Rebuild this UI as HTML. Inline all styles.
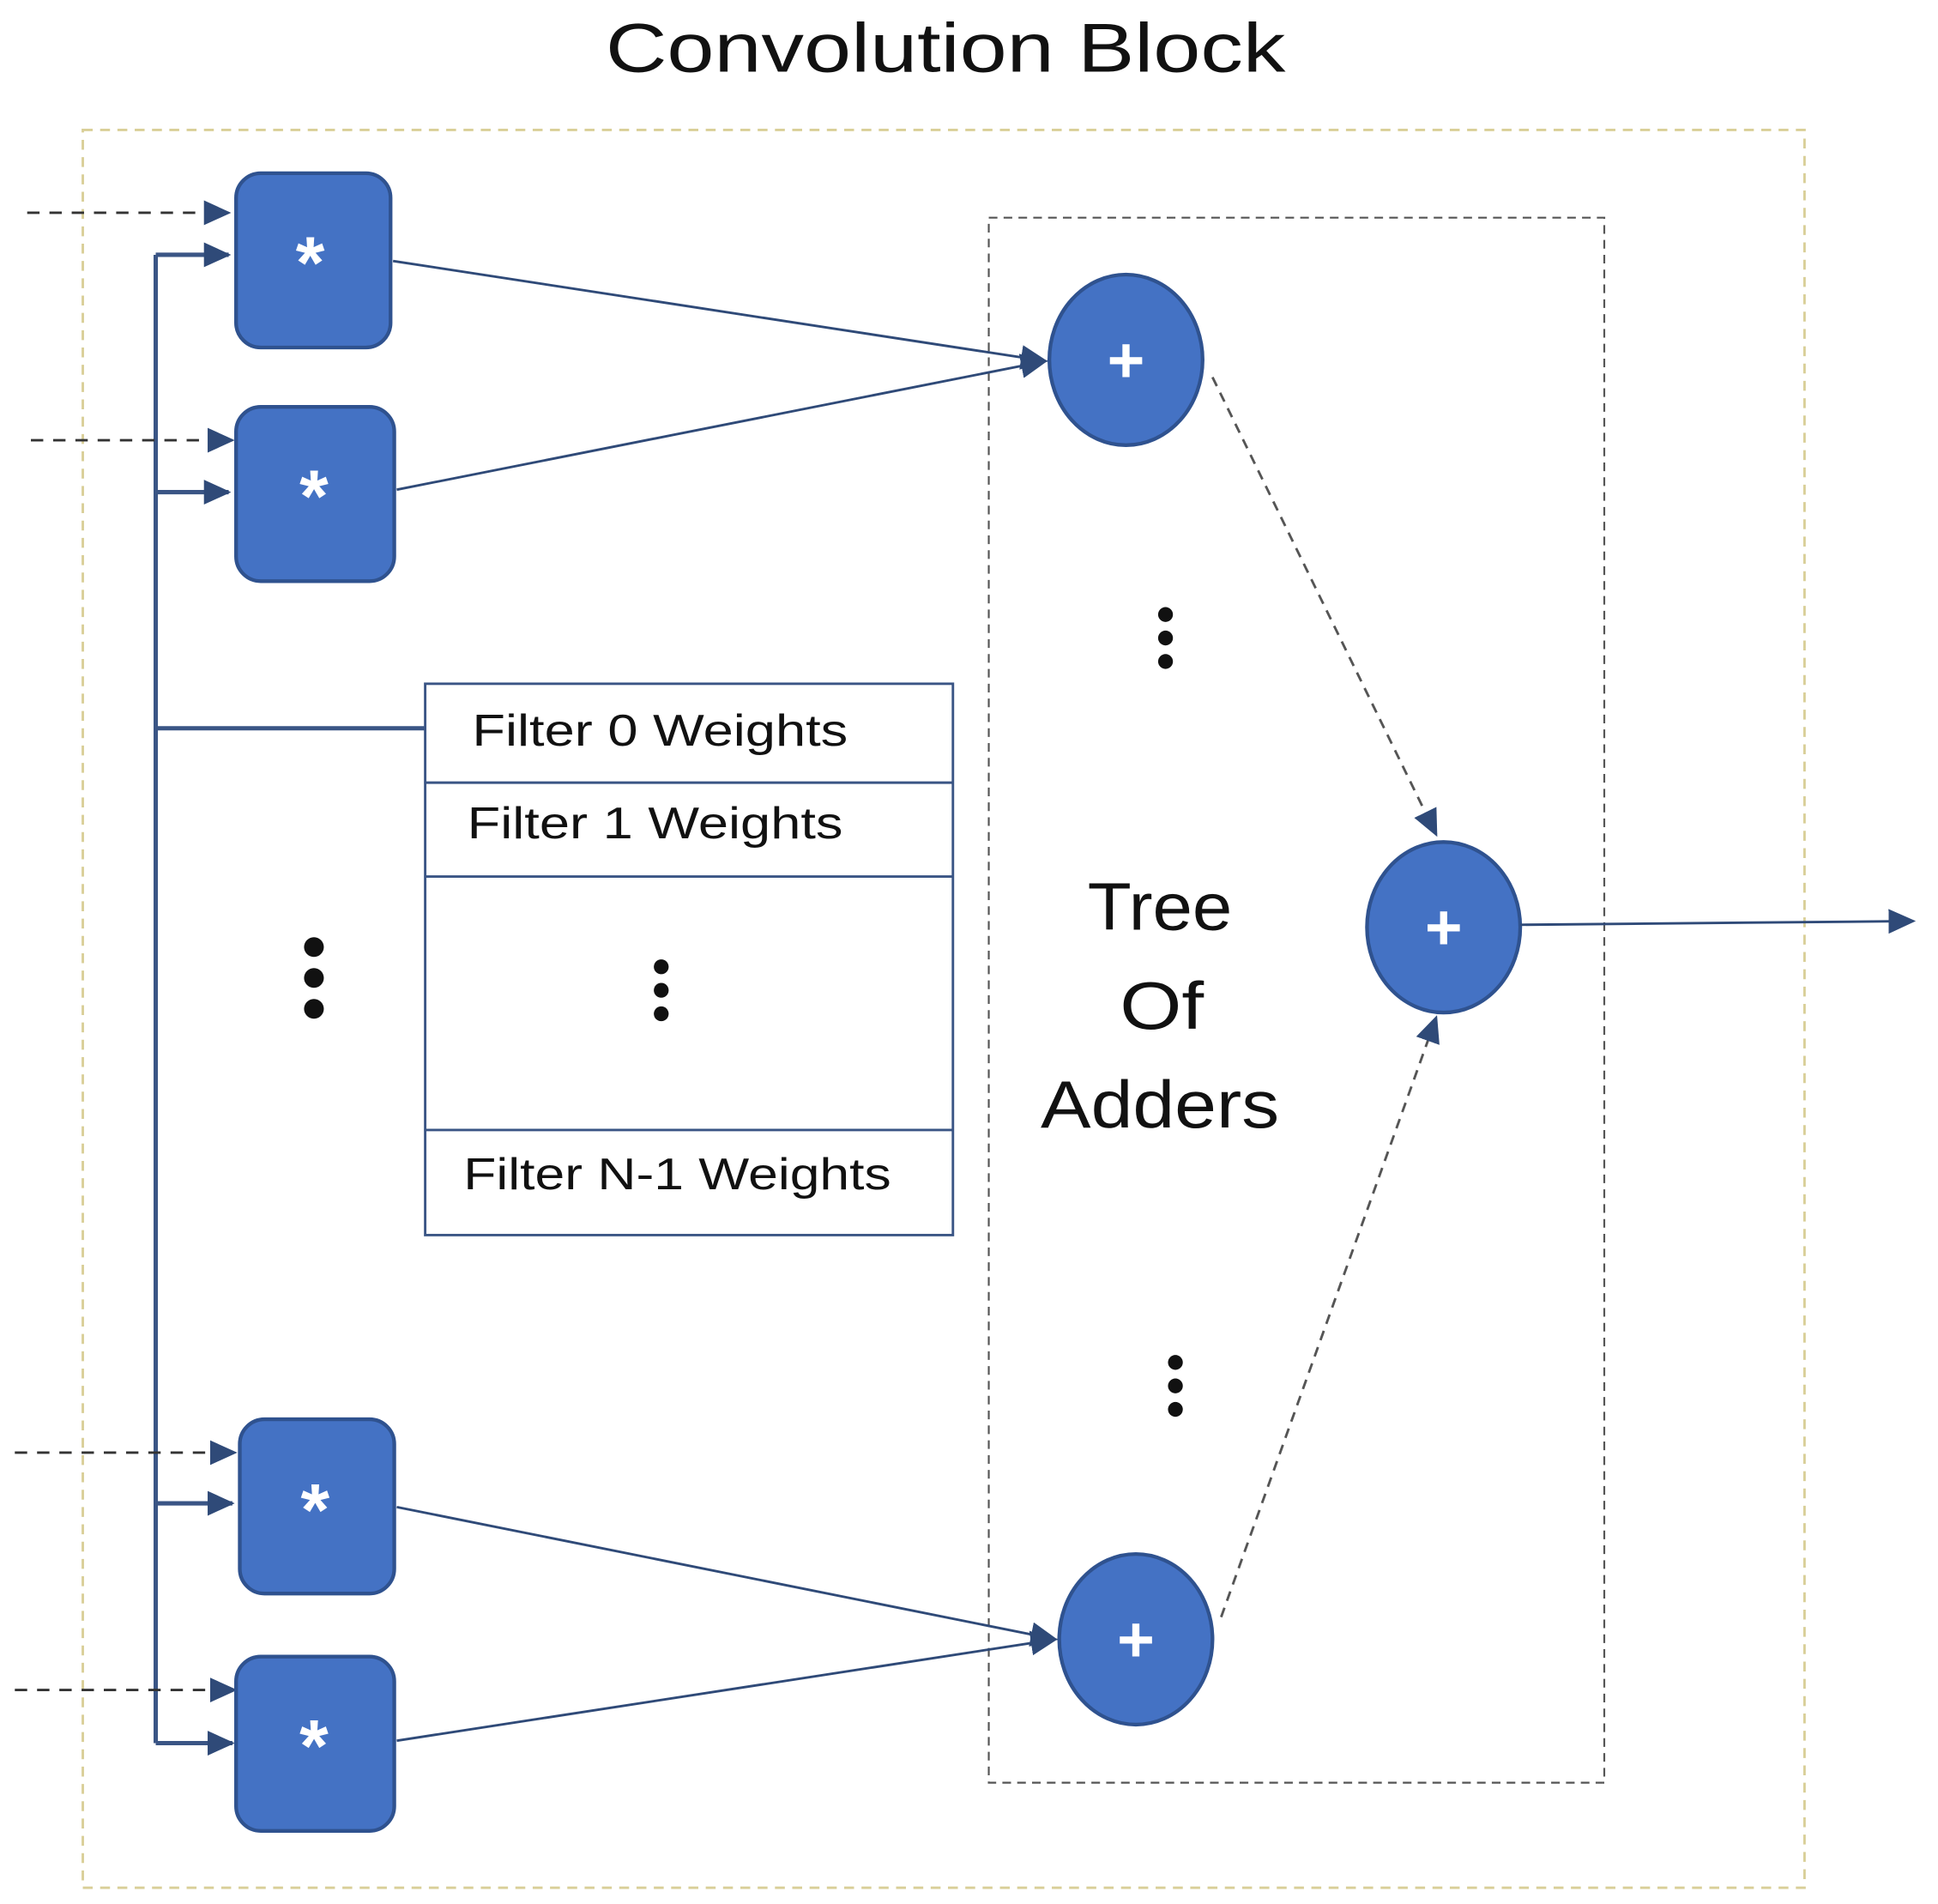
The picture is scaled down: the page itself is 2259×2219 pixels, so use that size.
<!DOCTYPE html>
<html><head><style>html,body{margin:0;padding:0;background:#fff}svg{display:block}</style></head>
<body>
<svg width="2259" height="2219" viewBox="0 0 1568 1540" xmlns="http://www.w3.org/2000/svg" font-family="Liberation Sans, DejaVu Sans, sans-serif">
<defs>
<marker id="b" markerWidth="22" markerHeight="20" refX="20" refY="10" orient="auto" markerUnits="userSpaceOnUse" viewBox="0 0 22 20">
<path d="M0,0 L22,10 L0,20 z" fill="#2f4a78"/></marker>
</defs>
<text x="490" y="58" font-size="56" textLength="550" lengthAdjust="spacingAndGlyphs" fill="#111">Convolution  Block</text>
<rect x="67" y="105" width="1393" height="1422" fill="none" stroke="#d9cf98" stroke-width="2" stroke-dasharray="8,6"/>
<rect x="800" y="176" width="498" height="1266" fill="none" stroke="#555" stroke-width="1.5" stroke-dasharray="7,5"/>
<path d="M345,589 H126 V1410" fill="none" stroke="#3a5585" stroke-width="3.5"/>
<g stroke="#3a5585" stroke-width="3.5" marker-end="url(#b)">
<line x1="126" y1="206" x2="185" y2="206"/><line x1="126" y1="398" x2="185" y2="398"/>
<line x1="126" y1="1216" x2="188" y2="1216"/><line x1="126" y1="1410" x2="188" y2="1410"/>
</g>
<path d="M126,206 V589" stroke="#3a5585" stroke-width="3.5"/>
<g stroke="#333" stroke-width="2" stroke-dasharray="10,8" marker-end="url(#b)">
<line x1="22" y1="172" x2="185" y2="172"/><line x1="25" y1="356" x2="188" y2="356"/>
<line x1="12" y1="1175" x2="190" y2="1175"/><line x1="12" y1="1367" x2="190" y2="1367"/>
</g>
<g fill="#4472c4" stroke="#2f528f" stroke-width="3">
<rect x="191" y="140" width="125" height="141" rx="20"/>
<rect x="191" y="329" width="128" height="141" rx="20"/>
<rect x="194" y="1148" width="125" height="141" rx="20"/>
<rect x="191" y="1340" width="128" height="141" rx="20"/>
<ellipse cx="911" cy="291" rx="62" ry="69"/>
<ellipse cx="1168" cy="750" rx="62" ry="69"/>
<ellipse cx="919" cy="1326" rx="62" ry="69"/>
</g>
<g fill="#fff" font-size="60" font-weight="bold" text-anchor="middle">
<text x="251" y="233">*</text><text x="254" y="422">*</text>
<text x="255" y="1242">*</text><text x="254" y="1433">*</text>
</g>
<g fill="#fff" font-size="52" font-weight="bold" text-anchor="middle">
<text x="911" y="309">+</text><text x="1168" y="768">+</text><text x="919" y="1344">+</text>
</g>
<g stroke="#2f4a78" stroke-width="2" marker-end="url(#b)">
<line x1="318" y1="211" x2="846" y2="292"/>
<line x1="321" y1="396" x2="846" y2="292"/>
<line x1="321" y1="1219" x2="854" y2="1326"/>
<line x1="321" y1="1408" x2="854" y2="1326"/>
<line x1="1230" y1="748" x2="1548" y2="745"/>
</g>
<g stroke="#555" stroke-width="2" stroke-dasharray="8,6" marker-end="url(#b)">
<line x1="981" y1="305" x2="1162" y2="675"/>
<line x1="988" y1="1308" x2="1162" y2="823"/>
</g>
<rect x="344" y="553" width="427" height="446" fill="#fff" stroke="#3a5585" stroke-width="2"/>
<g stroke="#3a5585" stroke-width="2">
<line x1="344" y1="633" x2="771" y2="633"/><line x1="344" y1="709" x2="771" y2="709"/><line x1="344" y1="914" x2="771" y2="914"/>
</g>
<g font-size="36" fill="#111" lengthAdjust="spacingAndGlyphs">
<text x="382" y="603" textLength="304" lengthAdjust="spacingAndGlyphs">Filter 0 Weights</text>
<text x="378" y="678" textLength="304" lengthAdjust="spacingAndGlyphs">Filter 1 Weights</text>
<text x="375" y="962" textLength="346" lengthAdjust="spacingAndGlyphs">Filter N-1 Weights</text>
</g>
<g font-size="54" fill="#111">
<text x="880" y="752" textLength="117" lengthAdjust="spacingAndGlyphs">Tree</text>
<text x="906" y="832" textLength="68" lengthAdjust="spacingAndGlyphs">Of</text>
<text x="842" y="912" textLength="193" lengthAdjust="spacingAndGlyphs">Adders</text>
</g>
<g fill="#111">
<circle cx="254" cy="766" r="8"/><circle cx="254" cy="791" r="8"/><circle cx="254" cy="816" r="8"/>
<circle cx="535" cy="782" r="6"/><circle cx="535" cy="801" r="6"/><circle cx="535" cy="820" r="6"/>
<circle cx="943" cy="497" r="6"/><circle cx="943" cy="516" r="6"/><circle cx="943" cy="535" r="6"/>
<circle cx="951" cy="1102" r="6"/><circle cx="951" cy="1121" r="6"/><circle cx="951" cy="1140" r="6"/>
</g>
</svg>
</body></html>
